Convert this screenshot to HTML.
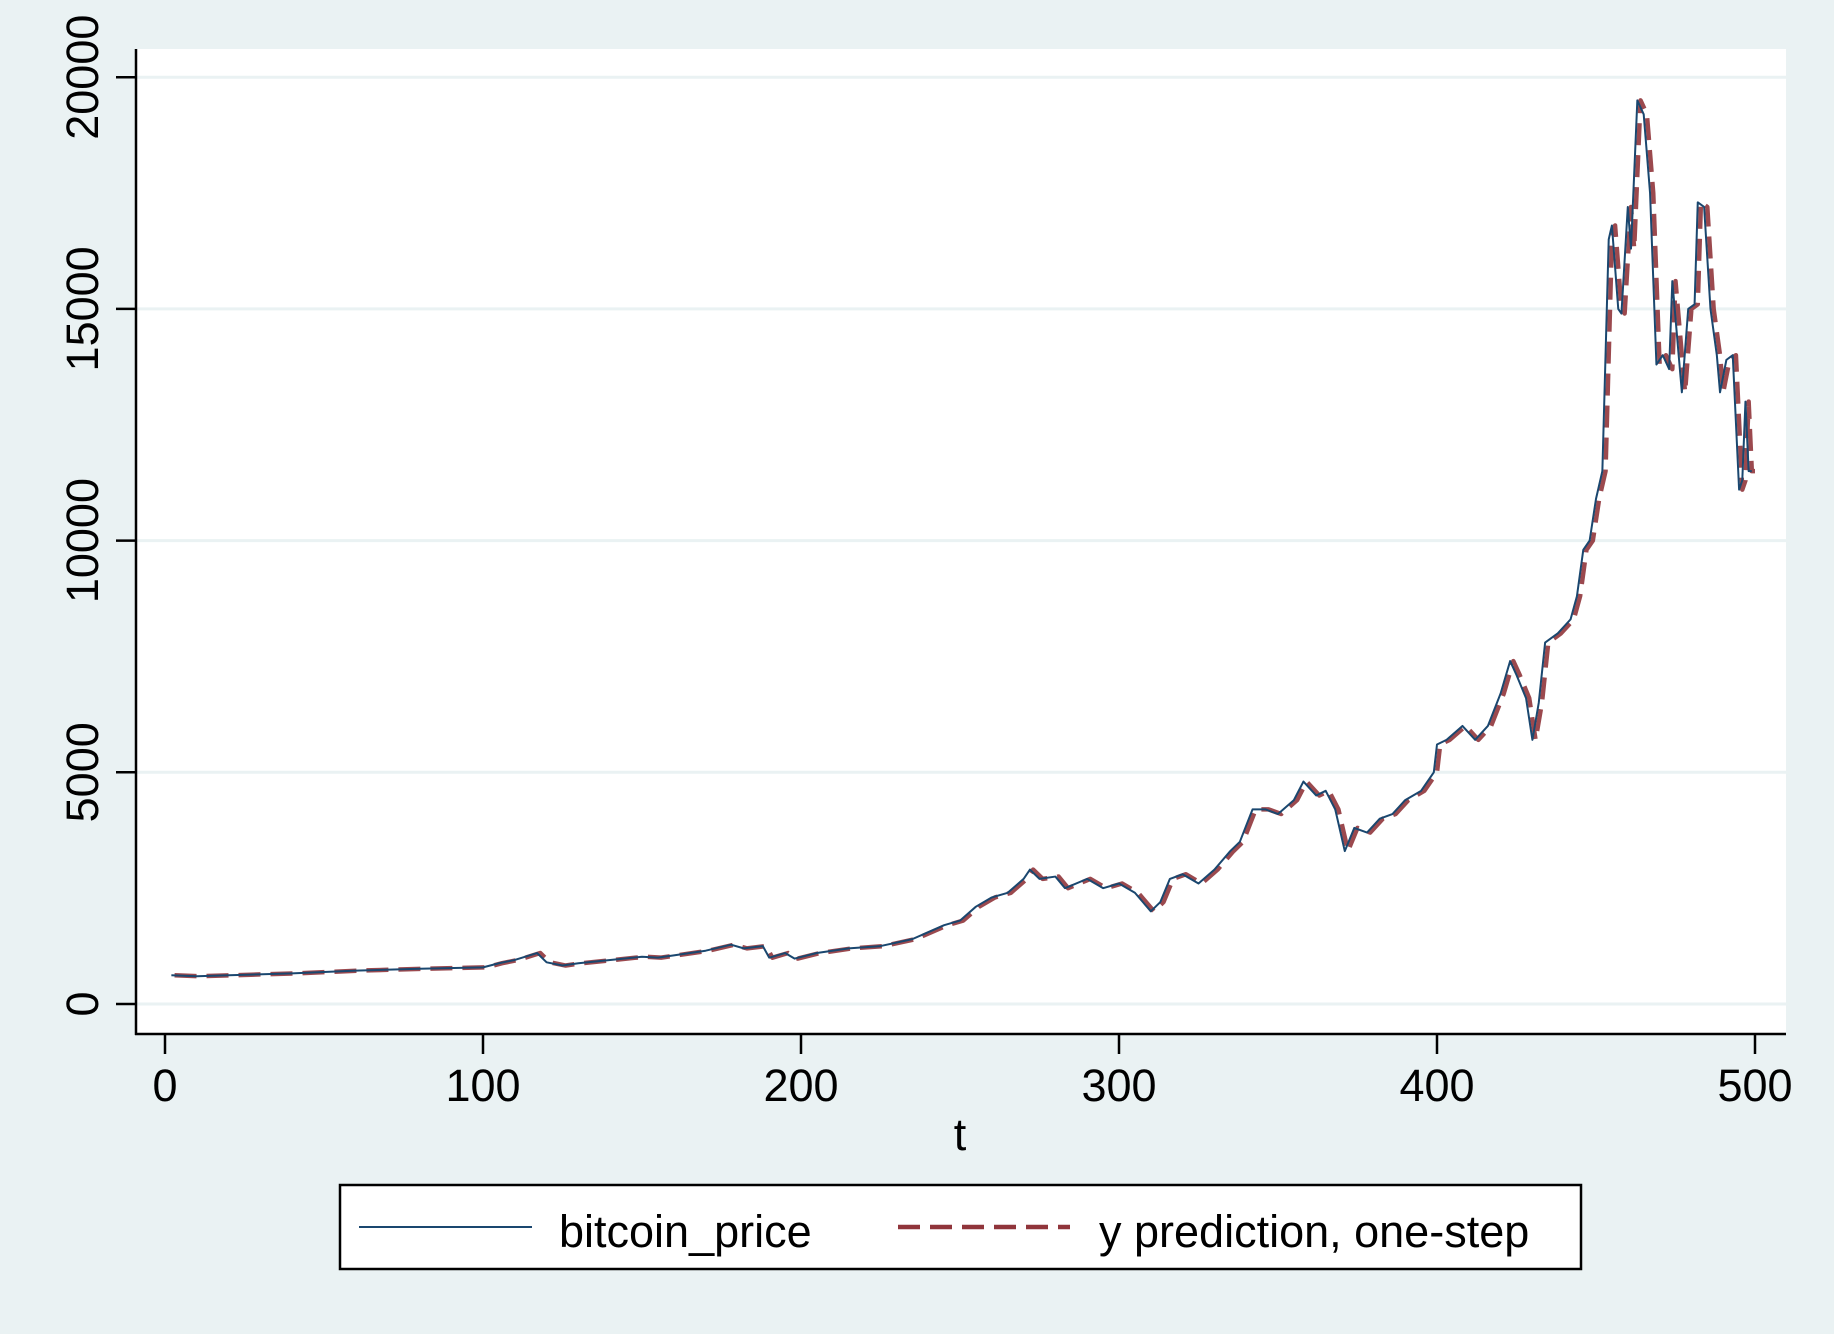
<!DOCTYPE html>
<html><head><meta charset="utf-8">
<style>
html,body{margin:0;padding:0;background:#eaf2f3;}
svg{display:block;font-family:"Liberation Sans",sans-serif;}
</style></head>
<body>
<svg id="chart" width="1834" height="1334" viewBox="0 0 1834 1334">
<rect x="0" y="0" width="1834" height="1334" fill="#eaf2f3"/>
<rect x="136" y="49" width="1650" height="985" fill="#ffffff"/>
<g id="grid"></g>
<g id="series"></g>
<g id="axes"></g>
<text x="960" y="1150" font-size="45" text-anchor="middle">t</text>
<g>
<rect x="340" y="1185" width="1241" height="84" fill="#fff" stroke="#000" stroke-width="2.5"/>
<line x1="359" y1="1227" x2="532" y2="1227" stroke="#1a476f" stroke-width="2"/>
<text x="559" y="1247" font-size="45">bitcoin_price</text>
<line x1="898" y1="1227" x2="1070" y2="1227" stroke="#90353b" stroke-width="4.5" stroke-dasharray="22 10"/>
<text x="1099" y="1247" font-size="45">y prediction, one-step</text>
</g>
</svg>
<script>
const tValues=[2,10,20,40,60,80,100,105,110,117,120,125,130,140,150,155,160,170,178,182,188,190,195,198,205,215,225,235,240,245,250,255,260,265,270,272,275,280,283,290,295,300,305,310,313,316,320,325,330,335,338,342,346,350,355,358,362,365,368,371,374,378,382,386,390,395,399,400,403,408,412,416,420,423,425,428,430,432,434,438,442,444,446,448,450,452,454,455,457,458,460,461,463,465,467,469,471,473,474,476,477,479,481,482,484,486,488,489,491,493,495,496,497,498,499];
const priceValues=[620,600,620,660,720,760,790,880,950,1100,900,830,880,950,1020,1000,1050,1150,1280,1200,1250,1000,1100,980,1100,1200,1250,1400,1550,1700,1800,2100,2300,2400,2700,2900,2700,2750,2500,2700,2500,2600,2400,2000,2200,2700,2800,2600,2900,3300,3500,4200,4200,4100,4400,4800,4500,4600,4200,3300,3800,3700,4000,4100,4400,4600,5000,5600,5700,6000,5700,6000,6700,7400,7100,6600,5700,6500,7800,8000,8300,8800,9800,10000,10900,11500,16500,16800,15000,14900,17200,16300,19500,19200,17500,13800,14000,13700,15600,14000,13200,15000,15100,17300,17200,15000,14000,13200,13900,14000,11100,11300,13000,11500,11500];
const predValues=[620,600,620,660,720,760,790,880,950,1100,900,830,880,950,1020,1000,1050,1150,1280,1200,1250,1000,1100,980,1100,1200,1250,1400,1550,1700,1800,2100,2300,2400,2700,2900,2700,2750,2500,2700,2500,2600,2400,2000,2200,2700,2800,2600,2900,3300,3500,4200,4200,4100,4400,4800,4500,4600,4200,3300,3800,3700,4000,4100,4400,4600,5000,5600,5700,6000,5700,6000,6700,7400,7100,6600,5700,6500,7800,8000,8300,8800,9800,10000,10900,11500,16500,16800,15000,14900,17200,16300,19500,19200,17500,13800,14000,13700,15600,14000,13200,15000,15100,17300,17200,15000,14000,13200,13900,14000,11100,11300,13000,11500,11500];
const predLag=1;
const yTicks=[0,5000,10000,15000,20000];
const xTicks=[0,100,200,300,400,500];

const NS="http://www.w3.org/2000/svg";
function xs(t){return 165+t*3.18;}
function ys(v){return 1004-v*0.04634;}
function mk(tag,attrs,parent){const e=document.createElementNS(NS,tag);for(const k in attrs)e.setAttribute(k,attrs[k]);parent.appendChild(e);return e;}
const grid=document.getElementById('grid'),axes=document.getElementById('axes'),series=document.getElementById('series');
yTicks.forEach(v=>{
  const g=mk('line',{x1:136,x2:1786,y1:ys(v),y2:ys(v),stroke:'#eaf2f3','stroke-width':3},grid);
  
  
  const tk=mk('line',{x1:116,x2:136,y1:ys(v),y2:ys(v),stroke:'#000','stroke-width':2.5},axes);
  
  
  const lb=mk('text',{x:0,y:0,'font-size':45,'text-anchor':'middle',transform:`translate(98,${ys(v)}) rotate(-90)`},axes);
  lb.textContent=v;
  
  
});
xTicks.forEach(t=>{
  const tk=mk('line',{x1:xs(t),x2:xs(t),y1:1034,y2:1054,stroke:'#000','stroke-width':2.5},axes);
  
  
  const lb=mk('text',{x:xs(t),y:1101,'font-size':45,'text-anchor':'middle'},axes);
  lb.textContent=t;
  
  
});
const ya=mk('line',{x1:136,x2:136,y1:49,y2:1035,stroke:'#000','stroke-width':2.5},axes);


const xa=mk('line',{x1:135,x2:1786,y1:1034,y2:1034,stroke:'#000','stroke-width':2.5},axes);



const pp=priceValues.map((v,i)=>xs(tValues[i])+','+ys(v)).join(' ');
const pl=mk('polyline',{points:pp,fill:'none',stroke:'#1a476f','stroke-width':2,'stroke-linejoin':'round'},series);


const pr=predValues.map((v,i)=>xs(tValues[i]+predLag)+','+ys(v)).join(' ');
const dl=mk('polyline',{points:pr,fill:'none',stroke:'#90353b','stroke-width':4.5,'stroke-dasharray':'22 10','stroke-linejoin':'round','stroke-opacity':0.9},series);


series.appendChild(pl);
</script>
</body></html>
